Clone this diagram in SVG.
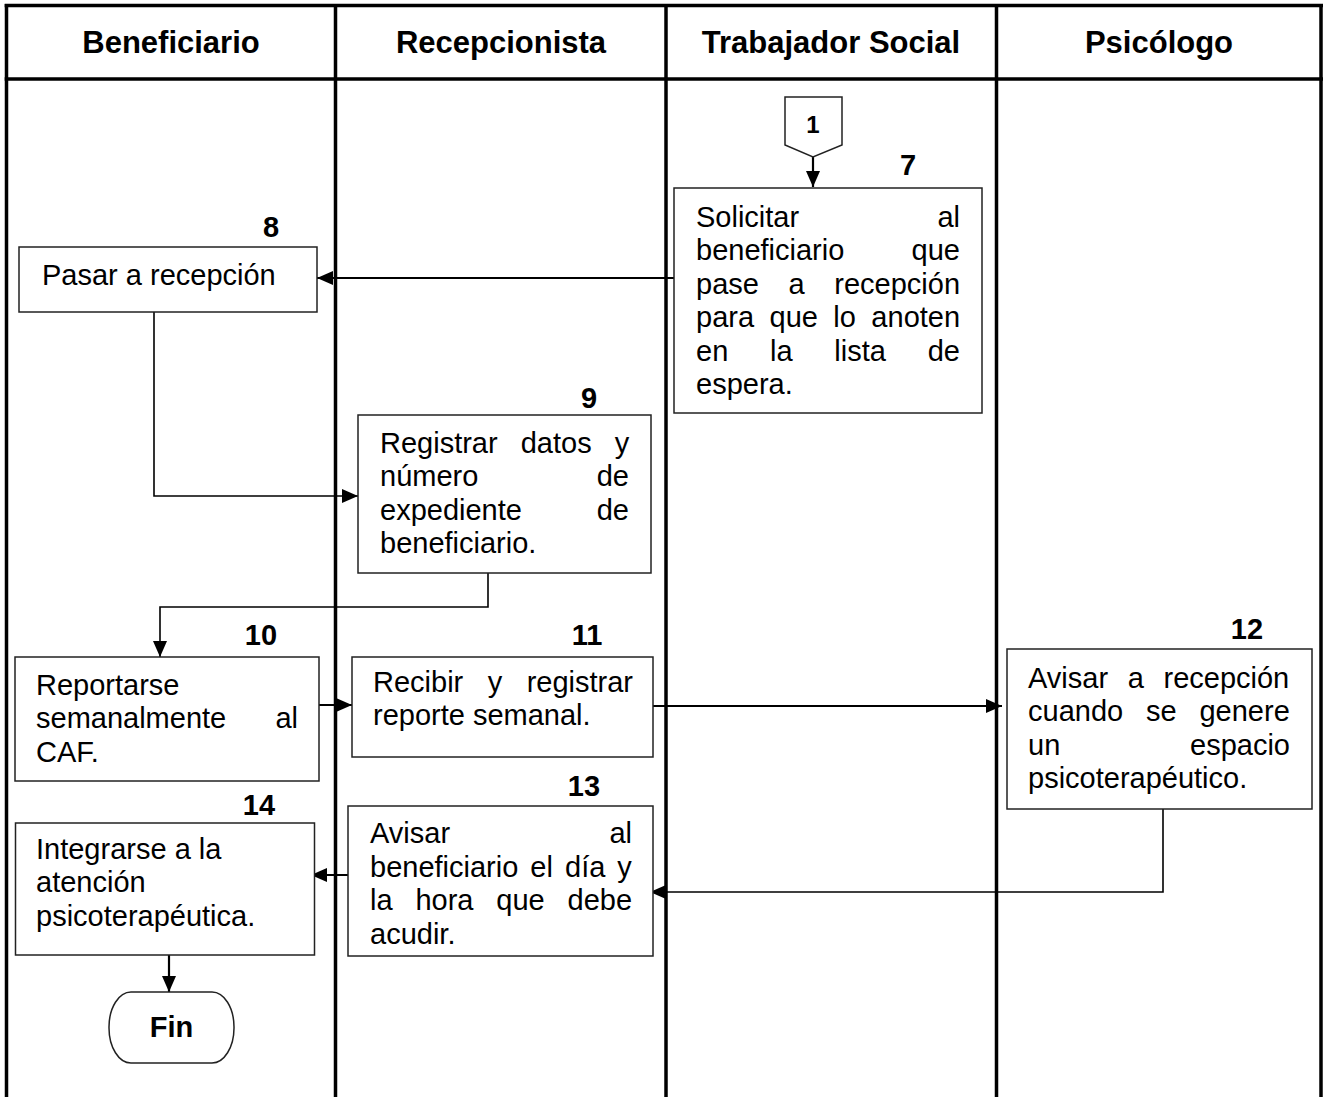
<svg xmlns="http://www.w3.org/2000/svg" width="1327" height="1097" viewBox="0 0 1327 1097">
<defs>
<style>
.lane{stroke:#000;stroke-width:3.5;fill:none}
.box{fill:#fff;stroke:#222;stroke-width:1.5}
.hd{font-family:"Liberation Sans",Arial,sans-serif;font-weight:bold;font-size:31px;text-anchor:middle;fill:#000}
.t{font-family:"Liberation Sans",Arial,sans-serif;font-size:29px;fill:#000}
.e{text-anchor:end}
.n{font-family:"Liberation Sans",Arial,sans-serif;font-weight:bold;font-size:29px;text-anchor:middle;fill:#000}
.c{stroke:#000;stroke-width:2.2;fill:none}
.c1{stroke:#000;stroke-width:1.6;fill:none}
</style>
<marker id="ah" markerUnits="userSpaceOnUse" markerWidth="16" markerHeight="14" refX="16" refY="7" orient="auto">
<path d="M0,0 L16,7 L0,14 z" fill="#000"/>
</marker>
</defs>
<rect width="1327" height="1097" fill="#fff"/>
<g id="lanes">
<line class="lane" x1="4.7" y1="5.5" x2="1323" y2="5.5"/>
<line class="lane" x1="4.7" y1="79" x2="1323" y2="79"/>
<line class="lane" x1="6.5" y1="4" x2="6.5" y2="1097"/>
<line class="lane" x1="335.5" y1="4" x2="335.5" y2="1097"/>
<line class="lane" x1="666" y1="4" x2="666" y2="1097"/>
<line class="lane" x1="996.5" y1="4" x2="996.5" y2="1097"/>
<line class="lane" x1="1321" y1="4" x2="1321" y2="1097"/>
<text class="hd" x="171" y="53">Beneficiario</text>
<text class="hd" x="501" y="53">Recepcionista</text>
<text class="hd" x="831" y="53">Trabajador Social</text>
<text class="hd" x="1159" y="53">Psicólogo</text>
</g>
<g id="connectors">
<line class="c" x1="813" y1="157" x2="813" y2="187" marker-end="url(#ah)"/>
<line class="c" x1="674" y1="278" x2="317" y2="278" marker-end="url(#ah)"/>
<polyline class="c1" points="154,312 154,496 358,496" marker-end="url(#ah)"/>
<polyline class="c1" points="488,573 488,607 160,607 160,657" marker-end="url(#ah)"/>
<line class="c" x1="319" y1="705" x2="352" y2="705" marker-end="url(#ah)"/>
<line class="c" x1="648" y1="706" x2="1002" y2="706" marker-end="url(#ah)"/>
<polyline class="c1" points="1163,809 1163,892 650,892" marker-end="url(#ah)"/>
<line class="c" x1="348" y1="875" x2="311" y2="875" marker-end="url(#ah)"/>
<line class="c" x1="169" y1="955" x2="169" y2="992" marker-end="url(#ah)"/>
</g>
<g id="node-1">
<polygon class="box" points="785,97 842,97 842,145 813,157 785,145"/>
<text class="n" x="813" y="133" style="font-size:24px">1</text>
</g>
<g id="node-7">
<rect class="box" x="674" y="188" width="308" height="225"/>
<text class="n" x="908" y="175">7</text>
<text class="t" x="696" y="227">Solicitar</text><text class="t e" x="960" y="227">al</text>
<text class="t" x="696" y="260.4">beneficiario</text><text class="t e" x="960" y="260.4">que</text>
<text class="t" x="696" y="293.8" word-spacing="21.6">pase a recepción</text>
<text class="t" x="696" y="327.2" word-spacing="7.4">para que lo anoten</text>
<text class="t" x="696" y="360.6" word-spacing="33.7">en la lista de</text>
<text class="t" x="696" y="394">espera.</text>
</g>
<g id="node-8">
<rect class="box" x="19" y="247" width="298" height="65"/>
<text class="n" x="271" y="237">8</text>
<text class="t" x="42" y="285">Pasar a recepción</text>
</g>
<g id="node-9">
<rect class="box" x="358" y="415" width="293" height="158"/>
<text class="n" x="589" y="408">9</text>
<text class="t" x="380" y="453" word-spacing="15">Registrar datos y</text>
<text class="t" x="380" y="486.4">número</text><text class="t e" x="629" y="486.4">de</text>
<text class="t" x="380" y="519.8">expediente</text><text class="t e" x="629" y="519.8">de</text>
<text class="t" x="380" y="553.2">beneficiario.</text>
</g>
<g id="node-10">
<rect class="box" x="15" y="657" width="304" height="124"/>
<text class="n" x="261" y="645">10</text>
<text class="t" x="36" y="695">Reportarse</text>
<text class="t" x="36" y="728.4">semanalmente</text><text class="t e" x="298" y="728.4">al</text>
<text class="t" x="36" y="761.8">CAF.</text>
</g>
<g id="node-11">
<rect class="box" x="352" y="657" width="301" height="100"/>
<text class="n" x="587" y="645">11</text>
<text class="t" x="373" y="691.7" word-spacing="16.4">Recibir y registrar</text>
<text class="t" x="373" y="725.1">reporte semanal.</text>
</g>
<g id="node-12">
<rect class="box" x="1007" y="649" width="305" height="160"/>
<text class="n" x="1247" y="639">12</text>
<text class="t" x="1028" y="688" word-spacing="11.6">Avisar a recepción</text>
<text class="t" x="1028" y="721.4" word-spacing="14.8">cuando se genere</text>
<text class="t" x="1028" y="754.8">un</text><text class="t e" x="1290" y="754.8">espacio</text>
<text class="t" x="1028" y="788.2">psicoterapéutico.</text>
</g>
<g id="node-13">
<rect class="box" x="348" y="806" width="305" height="150"/>
<text class="n" x="584" y="796">13</text>
<text class="t" x="370" y="843.3">Avisar</text><text class="t e" x="632" y="843.3">al</text>
<text class="t" x="370" y="876.7" word-spacing="4">beneficiario el día y</text>
<text class="t" x="370" y="910.1" word-spacing="14.8">la hora que debe</text>
<text class="t" x="370" y="943.5">acudir.</text>
</g>
<g id="node-14">
<rect class="box" x="15.5" y="823" width="299" height="132"/>
<text class="n" x="259" y="815">14</text>
<text class="t" x="36" y="859">Integrarse a la</text>
<text class="t" x="36" y="892.4">atención</text>
<text class="t" x="36" y="925.8">psicoterapéutica.</text>
</g>
<g id="node-fin">
<rect class="box" x="109" y="992" width="125" height="71" rx="22" ry="35"/>
<text class="n" x="171.5" y="1037">Fin</text>
</g>
</svg>
